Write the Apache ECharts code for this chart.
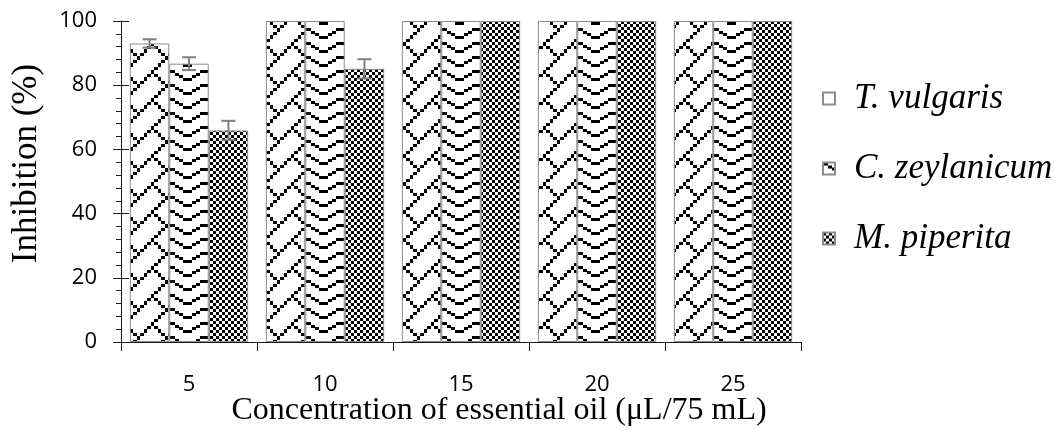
<!DOCTYPE html>
<html>
<head>
<meta charset="utf-8">
<script src="https://cdn.jsdelivr.net/npm/echarts@6/dist/echarts.min.js"></script>
<style>html,body{margin:0;padding:0;background:#fff;}#c{width:1054px;height:431px;}</style>
</head>
<body>
<div id="c"></div>
<script>
const categories = ['5', '10', '15', '20', '25'];
const seriesNames = ['T. vulgaris', 'C. zeylanicum', 'M. piperita'];
const tVulgaris = [93.0, 100, 100, 100, 100];
const cZeylanicum = [86.7, 100, 100, 100, 100];
const mPiperita = [65.9, 85.1, 100, 100, 100];
const tVulgarisErr = [1.3, 0, 0, 0, 0];
const cZeylanicumErr = [2.0, 0, 0, 0, 0];
const mPiperitaErr = [3.0, 3.0, 0, 0, 0];
const yMin = 0, yMax = 100, yInterval = 20;

// ---- hatch patterns (style only) ----
function brickPattern() {
  const bits = [0x01, 0x02, 0x04, 0x08, 0x10, 0x28, 0x44, 0x82];
  const s = 3.5, size = 28;
  const cv = document.createElement('canvas');
  cv.width = size; cv.height = size;
  const ctx = cv.getContext('2d');
  ctx.fillStyle = '#fff'; ctx.fillRect(0, 0, size, size);
  ctx.fillStyle = '#000';
  for (let r = 0; r < 8; r++) {
    for (let c = 0; c < 8; c++) {
      if (bits[r] & (1 << (7 - c))) {
        const x0 = Math.round(c * s), x1 = Math.round((c + 1) * s);
        const y0 = Math.round(r * s), y1 = Math.round((r + 1) * s);
        ctx.fillRect(x0, y0, x1 - x0, y1 - y0);
      }
    }
  }
  return cv;
}
function zigzagPattern() {
  const W = 34, H = 14;
  const cv = document.createElement('canvas');
  cv.width = W; cv.height = H;
  const ctx = cv.getContext('2d');
  ctx.fillStyle = '#fff'; ctx.fillRect(0, 0, W, H);
  ctx.fillStyle = '#000';
  const lv = [0, 1, 2, 3, 3, 2, 1, 0];
  for (let x = 0; x < W; x++) {
    const k = Math.min(7, Math.floor(x / W * 8));
    const y = Math.round(lv[k] * 2.5);
    ctx.fillRect(x, y, 1, 3);
  }
  return cv;
}
function checkerPattern() {
  const c = 3;
  const cv = document.createElement('canvas');
  cv.width = 2 * c; cv.height = 2 * c;
  const ctx = cv.getContext('2d');
  ctx.fillStyle = '#fff'; ctx.fillRect(0, 0, 2 * c, 2 * c);
  ctx.fillStyle = '#000';
  ctx.fillRect(0, 0, c, c); ctx.fillRect(c, c, c, c);
  return cv;
}
const patterns = [brickPattern(), zigzagPattern(), checkerPattern()];

const values = [tVulgaris, cZeylanicum, mPiperita];
const errs = [tVulgarisErr, cZeylanicumErr, mPiperitaErr];
const gapPct = 13;

const errData = [];
values.forEach((arr, s) => arr.forEach((v, i) => {
  if (errs[s][i] > 0) errData.push([i, v, errs[s][i], s]);
}));

const chart = echarts.init(document.getElementById('c'), null, {renderer: 'canvas'});
const barSeries = seriesNames.map((name, s) => ({
  name: name,
  type: 'bar',
  data: values[s],
  barGap: '0%',
  barCategoryGap: gapPct + '%',
  itemStyle: {
    color: {image: patterns[s], repeat: 'repeat'},
    borderColor: '#8c8c8c',
    borderWidth: 1
  },
  emphasis: {disabled: true}
}));

const errSeries = {
  type: 'custom',
  data: errData,
  z: 10,
  silent: true,
  renderItem: function (params, api) {
    const idx = api.value(0), v = api.value(1), e = api.value(2), s = api.value(3);
    const catW = api.size([1, 0])[0];
    const barW = catW * (1 - gapPct / 100) / 3;
    const cx = api.coord([idx, v])[0] + (s - 1) * barW;
    const yT = api.coord([idx, v + e])[1];
    const yB = api.coord([idx, v - e])[1];
    const hw = 7;
    const st = {stroke: '#7f7f7f', lineWidth: 2};
    return {
      type: 'group',
      children: [
        {type: 'line', shape: {x1: cx, y1: yT, x2: cx, y2: yB}, style: st},
        {type: 'line', shape: {x1: cx - hw, y1: yT, x2: cx + hw, y2: yT}, style: st},
        {type: 'line', shape: {x1: cx - hw, y1: yB, x2: cx + hw, y2: yB}, style: st}
      ]
    };
  }
};

const axisColor = '#1a1a1a';
const serif = '"Liberation Serif", "Times New Roman", serif';
const sans = '"Open Sans", sans-serif';
chart.setOption({
  animation: false,
  backgroundColor: '#fff',
  grid: {left: 121, right: 253, top: 21, bottom: 89, containLabel: false, outerBoundsMode: 'none'},
  legend: {
    orient: 'vertical',
    left: 822,
    top: 81,
    padding: 0,
    itemWidth: 12,
    itemHeight: 12,
    itemGap: 35,
    icon: 'rect',
    data: seriesNames,
    textStyle: {
      fontFamily: serif,
      fontStyle: 'italic',
      fontSize: 35,
      color: '#000',
      padding: [0, 0, 0, 14]
    }
  },
  xAxis: {
    type: 'category',
    data: categories,
    name: 'Concentration of essential oil (\u03bcL/75 mL)',
    nameLocation: 'middle',
    nameGap: 53,
    nameMoveOverlap: false,
    nameTextStyle: {fontFamily: serif, fontSize: 32, color: '#000', padding: [0, 0, 0, 76]},
    axisLine: {lineStyle: {color: axisColor, width: 1}},
    axisTick: {show: true, length: 9, lineStyle: {color: axisColor}},
    axisLabel: {fontFamily: sans, fontSize: 22, color: '#000', margin: 32}
  },
  yAxis: [{
    type: 'value',
    min: yMin, max: yMax, interval: yInterval,
    name: 'Inhibition (%)',
    nameLocation: 'middle',
    nameGap: 77,
    nameMoveOverlap: false,
    nameTextStyle: {fontFamily: serif, fontSize: 35, color: '#000', padding: [0, 0, 0, 36]},
    axisLine: {show: true, lineStyle: {color: axisColor, width: 1}},
    axisTick: {show: true, length: 8, lineStyle: {color: axisColor}},
    minorTick: {show: true, splitNumber: 5, length: 5, lineStyle: {color: axisColor}},
    splitLine: {show: false},
    axisLabel: {fontFamily: sans, fontSize: 22, color: '#000', margin: 24}
  }, {
    type: 'value',
    position: 'left',
    min: yMin, max: yMax, interval: yInterval,
    axisLine: {show: false},
    axisTick: {show: true, inside: true, length: 8, lineStyle: {color: axisColor}},
    axisLabel: {show: false},
    splitLine: {show: false}
  }],
  series: barSeries.concat([errSeries])
});
</script>
</body>
</html>
